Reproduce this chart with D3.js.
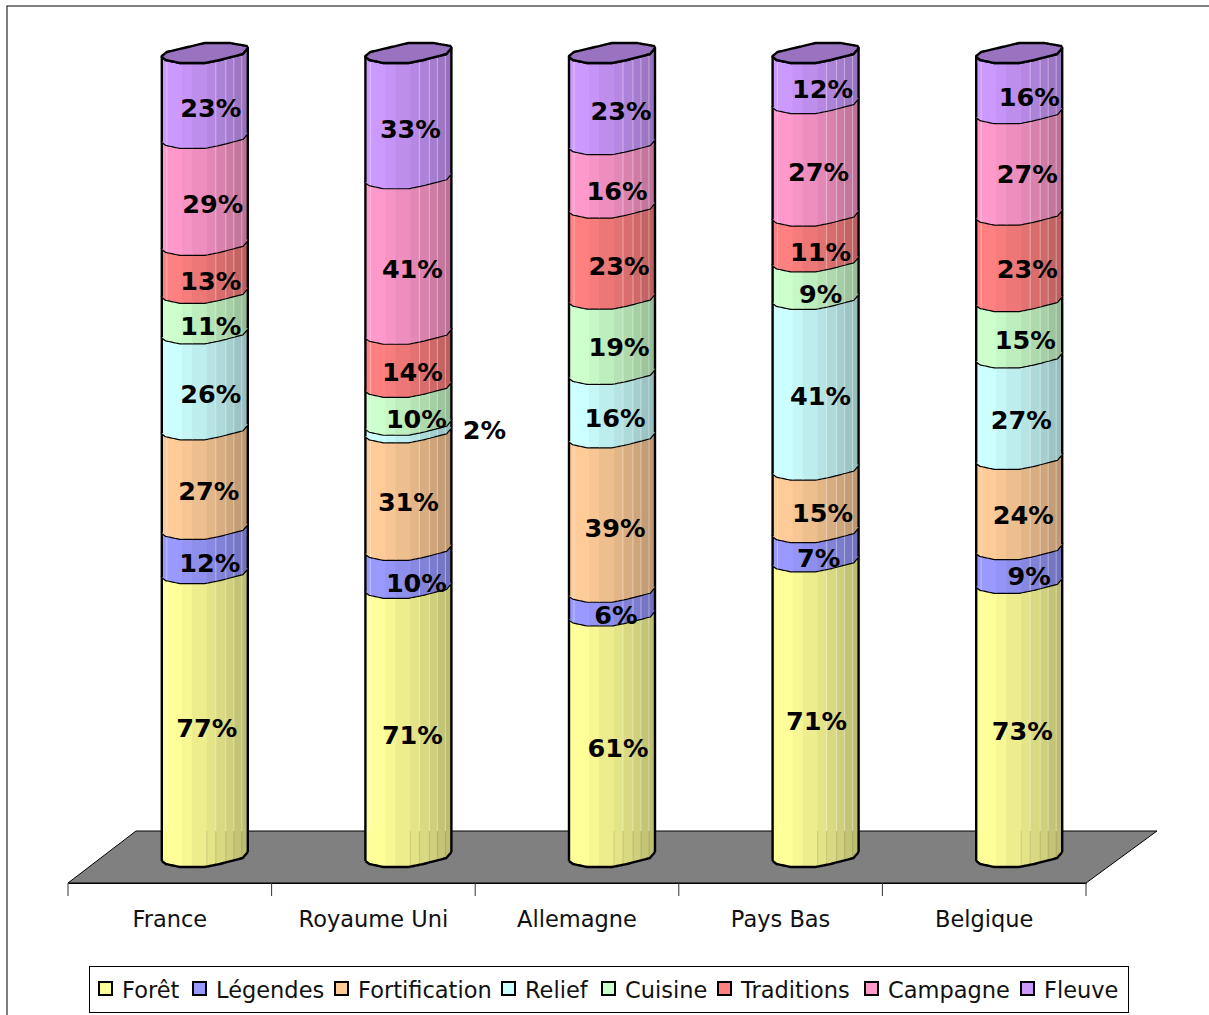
<!DOCTYPE html>
<html>
<head>
<meta charset="utf-8">
<script src="https://cdn.jsdelivr.net/npm/d3@7"></script>
<style>
    html, body { margin: 0; padding: 0; background: #fff; overflow: hidden; }
    svg { display: block; }
    text { font-family: "DejaVu Sans", sans-serif; fill: #111; }
    .cat text, .legend-label { font-size: 22.5px; }
    .pct { font-size: 25.5px; font-weight: bold; text-anchor: middle; fill: #000; }
</style>
</head>
<body>
<div id="viz_container"></div>
<script>
// data
const countries = ["France", "Royaume Uni", "Allemagne", "Pays Bas", "Belgique"];
const seriesNames = ["Forêt", "Légendes", "Fortification", "Relief", "Cuisine", "Traditions", "Campagne", "Fleuve"];
const foret = [77, 71, 61, 71, 73];
const legendes = [12, 10, 6, 7, 9];
const fortification = [27, 31, 39, 15, 24];
const relief = [26, 2, 16, 41, 27];
const cuisine = [11, 10, 19, 9, 15];
const traditions = [13, 14, 23, 11, 23];
const campagne = [29, 41, 16, 27, 27];
const fleuve = [23, 33, 23, 12, 16];
const seriesColors = ["#FFFF99", "#9999FF", "#FFCC99", "#CCFFFF", "#CCFFCC", "#FF8080", "#FF99CC", "#CC99FF"];

const seriesValues = [foret, legendes, fortification, relief, cuisine, traditions, campagne, fleuve];
const rows = countries.map((c, i) => {
    const row = { country: c };
    seriesNames.forEach((s, j) => { row[s] = seriesValues[j][i]; });
    return row;
});

const svg = d3.select("#viz_container")
    .append("svg")
    .attr("width", 1209)
    .attr("height", 1015);

// chart area border, runs off the page on the right and bottom
svg.append("rect")
    .attr("x", 7).attr("y", 6)
    .attr("width", 1300).attr("height", 1100)
    .attr("fill", "#fff").attr("stroke", "#000").attr("stroke-width", 1);

// scales
const xScale = d3.scaleBand().domain(countries).range([68, 1086]);
const yScale = d3.scaleLinear().domain([0, 1]).range([857, 53]);
const color = d3.scaleOrdinal().domain(seriesNames).range(seriesColors);

// floor
const floorY = 831;
svg.append("polygon")
    .attr("points", `68,883 136,${floorY} 1157,${floorY} 1086,883`)
    .attr("fill", "#808080").attr("stroke", "#000").attr("stroke-width", 1);

// category axis
const axisY = 883;
svg.append("g")
    .attr("class", "cat")
    .attr("transform", `translate(0,${axisY})`)
    .call(d3.axisBottom(xScale).tickSize(0).tickPadding(28))
    .call(g => g.select(".domain").attr("stroke", "#000"))
    .call(g => g.selectAll("text").attr("font-family", null).attr("font-size", null));
svg.append("g")
    .selectAll("line")
    .data(d3.range(countries.length + 1))
    .join("line")
    .attr("x1", i => xScale.range()[0] + i * xScale.step())
    .attr("x2", i => xScale.range()[0] + i * xScale.step())
    .attr("y1", axisY).attr("y2", axisY + 13)
    .attr("stroke", "#333");

// cylinder outline, the faceted front and back edge around the axis
const frontEdge = d3.scaleLinear()
    .domain([-43, -39, -25, 0, 15, 38, 43])
    .range([4, 7, 10, 10, 7, 1, -5]);
const backEdge = d3.scaleLinear()
    .domain([-43, -38, 0, 25, 42, 43])
    .range([3, -1, -10, -10, -7, -5]);

// facets, left to right
const facetEnds = [-23, -13, 2, 11, 21, 29, 37, 43];
const facetShade = [1, 0.97, 0.93, 0.89, 0.85, 0.81, 0.77, 0.74];
const facetLines = [-38, 11, 21, 29, 37];

const edgePoints = (edge, from, to, y0) => {
    const step = from < to ? 1 : -1;
    return d3.range(from, to + step, step).map(dx => [dx, y0 + edge(dx)]);
};
const line = d3.line();

const shade = (c, k) => {
    const r = d3.rgb(c);
    return d3.rgb(r.r * k, r.g * k, r.b * k).formatHex();
};

const stacked = d3.stack()
    .keys(seriesNames)
    .offset(d3.stackOffsetExpand)(rows);

const barOffset = 35;
const bars = svg.selectAll("g.bar")
    .data(countries)
    .join("g")
    .attr("class", "bar")
    .attr("transform", d => `translate(${xScale(d) + xScale.bandwidth() / 2 + barOffset},0)`);

bars.each(function (country, ci) {
    const g = d3.select(this);

    stacked.forEach(layer => {
        const fill = color(layer.key);
        const y0 = yScale(layer[ci][0]);
        const y1 = yScale(layer[ci][1]);

        facetEnds.forEach((end, k) => {
            const start = k === 0 ? -43 : facetEnds[k - 1];
            g.append("path")
                .attr("d", line(edgePoints(frontEdge, start, end + (end < 43 ? 1 : 0), y1)
                    .concat(edgePoints(frontEdge, end + (end < 43 ? 1 : 0), start, y0))) + "Z")
                .attr("fill", shade(fill, facetShade[k]));
        });

        facetLines.forEach(dx => {
            g.append("line")
                .attr("x1", dx).attr("x2", dx)
                .attr("y1", y1 + frontEdge(dx)).attr("y2", Math.min(y0 + frontEdge(dx), floorY))
                .attr("stroke", "#fff").attr("stroke-opacity", 0.4);
        });

        // sides and the front edge of this piece
        g.append("path")
            .attr("d", line([[-43, y0 + frontEdge(-43)]]
                .concat(edgePoints(frontEdge, -43, 43, y1))
                .concat([[43, y0 + frontEdge(43)]])))
            .attr("fill", "none").attr("stroke", "#000").attr("stroke-width", 2.4)
            .attr("stroke-linejoin", "round");
    });

    // faint seams where the floor passes behind the column
    facetEnds.slice(2, 7).forEach(dx => {
        g.append("line")
            .attr("x1", dx).attr("x2", dx)
            .attr("y1", floorY).attr("y2", yScale(0) + frontEdge(dx))
            .attr("stroke", "#000").attr("stroke-opacity", 0.12);
    });

    // bottom edge
    g.append("path")
        .attr("d", line(edgePoints(frontEdge, -43, 43, yScale(0))))
        .attr("fill", "none").attr("stroke", "#000").attr("stroke-width", 2.4)
        .attr("stroke-linejoin", "round");

    // top cap
    const topLayer = stacked[stacked.length - 1];
    const top = yScale(topLayer[ci][1]);
    g.append("path")
        .attr("d", line(edgePoints(frontEdge, -43, 43, top)
            .concat(edgePoints(backEdge, 43, -43, top))) + "Z")
        .attr("fill", shade(color(topLayer.key), 0.75))
        .attr("stroke", "#000").attr("stroke-width", 2.4).attr("stroke-linejoin", "round");
});

// value labels, moved the way the source has them
const labelShift = [
    [2, 5, 4, 6, 6, 6, 8, 6],
    [4, 8, 0, 76, 8, 4, 4, 2],
    [6, 4, 3, 3, 7, 7, 5, 9],
    [1, 3, 7, 5, 5, 5, 3, 7],
    [3, 10, 4, 2, 6, 8, 8, 10]
];
const labelLift = [
    [0, 0, 0, 0, 0, 0, 0, 0],
    [0, 2, -2, -11, 1, -1, 1, 1],
    [-1, -1, 1, 0, -2, 0, 3, 0],
    [-1, -1, 0, -1, 1, 1, 0, -1],
    [-1, -2, -1, -1, -2, -1, -2, 1]
];
stacked.forEach((layer, si) => {
    svg.append("g")
        .selectAll("text")
        .data(layer)
        .join("text")
        .attr("class", "pct")
        .attr("x", (d, i) => xScale(countries[i]) + xScale.bandwidth() / 2 + barOffset + labelShift[i][si])
        .attr("y", (d, i) => (yScale(d[0]) + yScale(d[1])) / 2 + 21.5 + labelLift[i][si])
        .text(d => d.data[layer.key] + "%");
});

// legend
const legendX = [99, 193, 335, 502, 602, 718, 865, 1021];
svg.append("rect")
    .attr("x", 89.5).attr("y", 966.5)
    .attr("width", 1039).attr("height", 46)
    .attr("fill", "#fff").attr("stroke", "#000");
const legendItems = svg.selectAll("g.legend")
    .data(seriesNames)
    .join("g")
    .attr("class", "legend")
    .attr("transform", (d, i) => `translate(${legendX[i]},989)`);
legendItems.append("rect")
    .attr("x", 0).attr("y", -7)
    .attr("width", 13).attr("height", 13)
    .attr("fill", d => color(d))
    .attr("stroke", "#000").attr("stroke-width", 2);
legendItems.append("text")
    .attr("class", "legend-label")
    .attr("x", 23).attr("y", 9)
    .text(d => d);
</script>
</body>
</html>
